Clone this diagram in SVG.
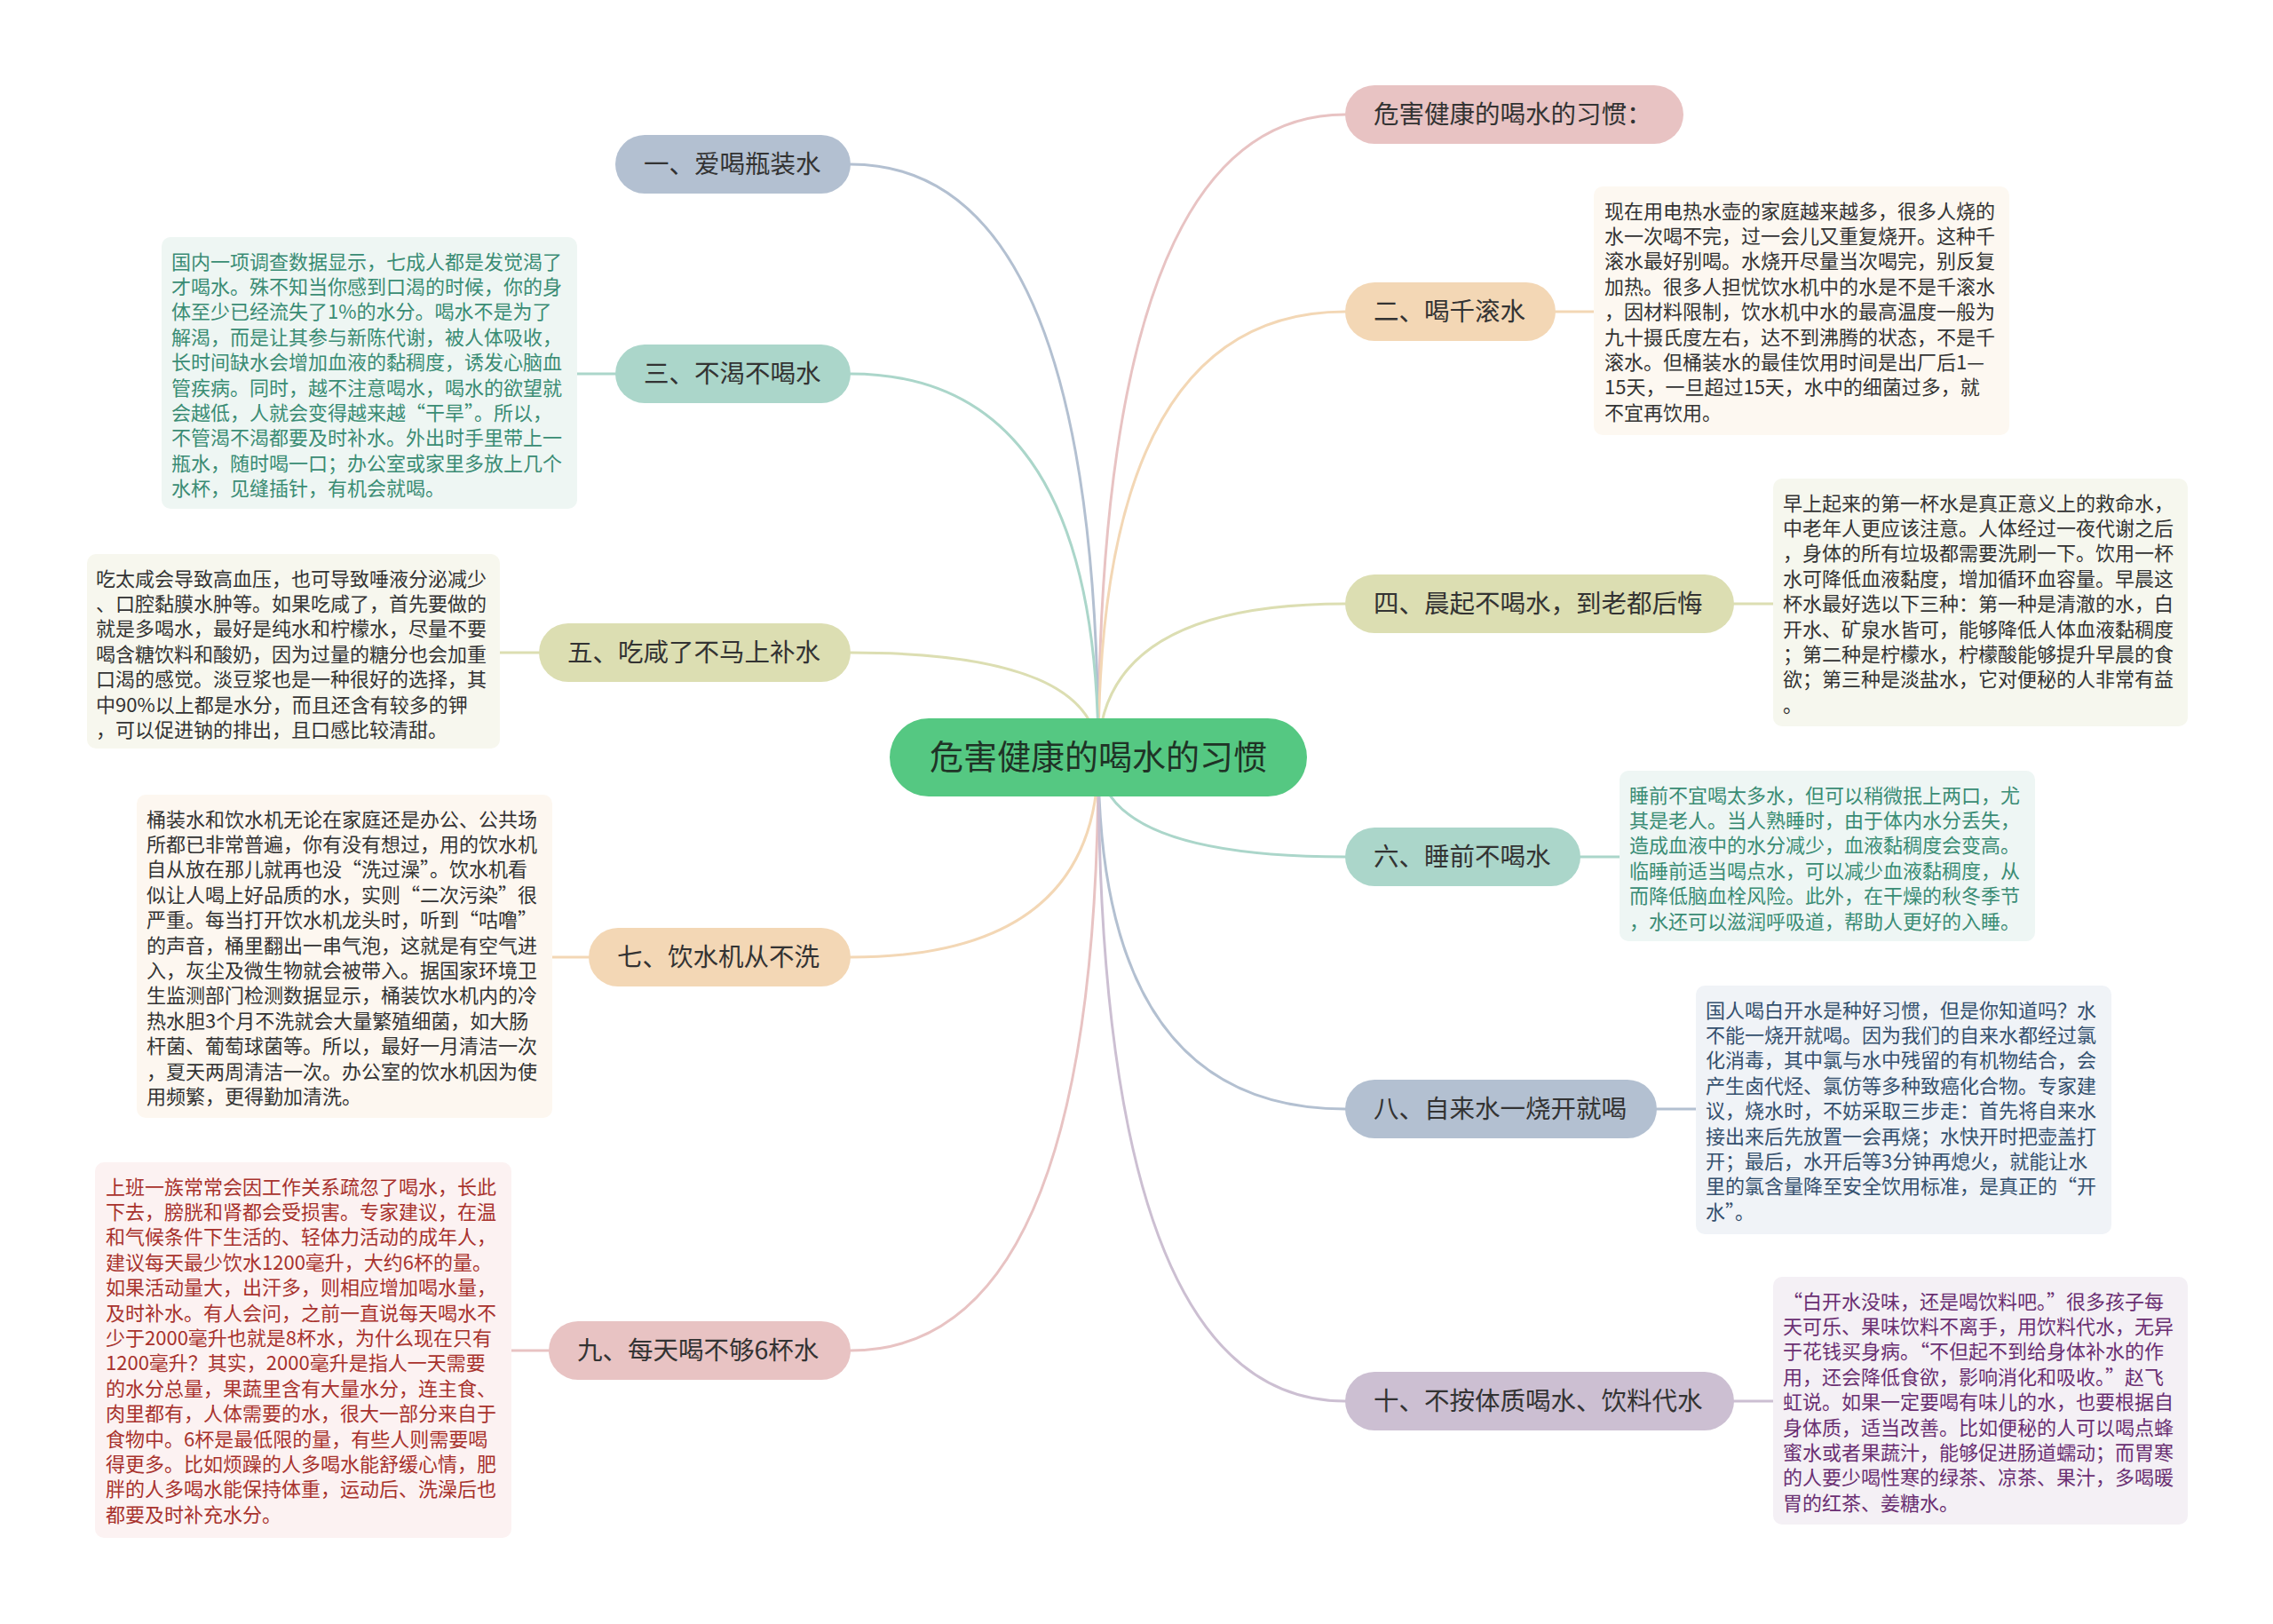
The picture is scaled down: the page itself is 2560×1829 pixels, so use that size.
<svg xmlns="http://www.w3.org/2000/svg" width="2560" height="1829" viewBox="0 0 2560 1829">
<style>
  text { font-family: "Noto Sans CJK SC", "Noto Sans", sans-serif; }
  .nt { font-size: 28.5px; fill: #333333; dominant-baseline: central; }
  .ct { font-size: 38px; fill: #1f3326; dominant-baseline: central; text-anchor: middle; }
  .bt { font-size: 22px; dominant-baseline: central; }
  .c { fill: none; stroke-width: 3; stroke-linecap: round; }
</style>
<rect width="2560" height="1829" fill="#ffffff"/>
<g id="connectors">
  <path class="c" stroke="#e8c3c3" d="M1237 852 Q1237 129 1515 129"/>
  <path class="c" stroke="#b3c0d1" d="M1237 852 Q1237 185 958 185"/>
  <path class="c" stroke="#f3d7b5" d="M1237 852 Q1237 351 1515 351"/>
  <path class="c" stroke="#abd6ca" d="M1237 852 Q1237 421 958 421"/>
  <path class="c" stroke="#dcdeb2" d="M1237 852 Q1237 680 1515 680"/>
  <path class="c" stroke="#dcdeb2" d="M1237 852 Q1237 735 958 735"/>
  <path class="c" stroke="#abd6ca" d="M1237 852 Q1237 965 1515 965"/>
  <path class="c" stroke="#f3d7b5" d="M1237 852 Q1237 1078 958 1078"/>
  <path class="c" stroke="#b3c0d1" d="M1237 852 Q1237 1249 1515 1249"/>
  <path class="c" stroke="#e8c3c3" d="M1237 852 Q1237 1521 958 1521"/>
  <path class="c" stroke="#ccbfd2" d="M1237 852 Q1237 1578 1515 1578"/>
  <path class="c" stroke="#f3d7b5" d="M1752 351 H1795"/>
  <path class="c" stroke="#abd6ca" d="M650 421 H693"/>
  <path class="c" stroke="#dcdeb2" d="M1953 680 H1997"/>
  <path class="c" stroke="#dcdeb2" d="M563 735 H607"/>
  <path class="c" stroke="#abd6ca" d="M1780 965 H1824"/>
  <path class="c" stroke="#f3d7b5" d="M622 1078 H663"/>
  <path class="c" stroke="#b3c0d1" d="M1866 1249 H1910"/>
  <path class="c" stroke="#e8c3c3" d="M576 1521 H618"/>
  <path class="c" stroke="#ccbfd2" d="M1953 1578 H1997"/>
</g>
<g id="center">
  <rect x="1002" y="809" width="470" height="88" rx="44" fill="#55c882"/>
  <text class="ct" x="1237" y="849">危害健康的喝水的习惯</text>
</g>
<g id="n0">
  <rect x="1515" y="96" width="381" height="66" rx="33" fill="#e8c3c3"/>
  <text class="nt" x="1547" y="126">危害健康的喝水的习惯：</text>
</g>
<g id="n1">
  <rect x="693" y="152" width="265" height="66" rx="33" fill="#b3c0d1"/>
  <text class="nt" x="725" y="182">一、爱喝瓶装水</text>
</g>
<g id="n2">
  <rect x="1515" y="318" width="237" height="66" rx="33" fill="#f3d7b5"/>
  <text class="nt" x="1547" y="348">二、喝千滚水</text>
</g>
<g id="n3">
  <rect x="693" y="388" width="265" height="66" rx="33" fill="#abd6ca"/>
  <text class="nt" x="725" y="418">三、不渴不喝水</text>
</g>
<g id="n4">
  <rect x="1515" y="647" width="438" height="66" rx="33" fill="#dcdeb2"/>
  <text class="nt" x="1547" y="677">四、晨起不喝水，到老都后悔</text>
</g>
<g id="n5">
  <rect x="607" y="702" width="351" height="66" rx="33" fill="#dcdeb2"/>
  <text class="nt" x="639" y="732">五、吃咸了不马上补水</text>
</g>
<g id="n6">
  <rect x="1515" y="932" width="265" height="66" rx="33" fill="#abd6ca"/>
  <text class="nt" x="1547" y="962">六、睡前不喝水</text>
</g>
<g id="n7">
  <rect x="663" y="1045" width="295" height="66" rx="33" fill="#f3d7b5"/>
  <text class="nt" x="695" y="1075">七、饮水机从不洗</text>
</g>
<g id="n8">
  <rect x="1515" y="1216" width="351" height="66" rx="33" fill="#b3c0d1"/>
  <text class="nt" x="1547" y="1246">八、自来水一烧开就喝</text>
</g>
<g id="n9">
  <rect x="618" y="1488" width="340" height="66" rx="33" fill="#e8c3c3"/>
  <text class="nt" x="650" y="1518">九、每天喝不够6杯水</text>
</g>
<g id="n10">
  <rect x="1515" y="1545" width="438" height="66" rx="33" fill="#ccbfd2"/>
  <text class="nt" x="1547" y="1575">十、不按体质喝水、饮料代水</text>
</g>
<g id="b2">
  <rect x="1795" y="210" width="468" height="280" rx="10" fill="#fdf8f1"/>
  <text class="bt" fill="#333333" transform="translate(0,-1.5)">
    <tspan x="1807" y="237">现在用电热水壶的家庭越来越多，很多人烧的</tspan>
    <tspan x="1807" y="265.4">水一次喝不完，过一会儿又重复烧开。这种千</tspan>
    <tspan x="1807" y="293.8">滚水最好别喝。水烧开尽量当次喝完，别反复</tspan>
    <tspan x="1807" y="322.2">加热。很多人担忧饮水机中的水是不是千滚水</tspan>
    <tspan x="1807" y="350.6">，因材料限制，饮水机中水的最高温度一般为</tspan>
    <tspan x="1807" y="379">九十摄氏度左右，达不到沸腾的状态，不是千</tspan>
    <tspan x="1807" y="407.4">滚水。但桶装水的最佳饮用时间是出厂后1—</tspan>
    <tspan x="1807" y="435.8">15天，一旦超过15天，水中的细菌过多，就</tspan>
    <tspan x="1807" y="464.2">不宜再饮用。</tspan>
  </text>
</g>
<g id="b4">
  <rect x="1997" y="539" width="467" height="279" rx="10" fill="#f6f7ee"/>
  <text class="bt" fill="#333333" transform="translate(0,-1.5)">
    <tspan x="2008" y="566">早上起来的第一杯水是真正意义上的救命水，</tspan>
    <tspan x="2008" y="594.4">中老年人更应该注意。人体经过一夜代谢之后</tspan>
    <tspan x="2008" y="622.8">，身体的所有垃圾都需要洗刷一下。饮用一杯</tspan>
    <tspan x="2008" y="651.2">水可降低血液黏度，增加循环血容量。早晨这</tspan>
    <tspan x="2008" y="679.6">杯水最好选以下三种：第一种是清澈的水，白</tspan>
    <tspan x="2008" y="708">开水、矿泉水皆可，能够降低人体血液黏稠度</tspan>
    <tspan x="2008" y="736.4">；第二种是柠檬水，柠檬酸能够提升早晨的食</tspan>
    <tspan x="2008" y="764.8">欲；第三种是淡盐水，它对便秘的人非常有益</tspan>
    <tspan x="2008" y="793.2">。</tspan>
  </text>
</g>
<g id="b6">
  <rect x="1824" y="868" width="468" height="192" rx="10" fill="#eef6f4"/>
  <text class="bt" fill="#3a8c74" transform="translate(0,-1.5)">
    <tspan x="1835" y="895">睡前不宜喝太多水，但可以稍微抿上两口，尤</tspan>
    <tspan x="1835" y="923.4">其是老人。当人熟睡时，由于体内水分丢失，</tspan>
    <tspan x="1835" y="951.8">造成血液中的水分减少，血液黏稠度会变高。</tspan>
    <tspan x="1835" y="980.2">临睡前适当喝点水，可以减少血液黏稠度，从</tspan>
    <tspan x="1835" y="1008.6">而降低脑血栓风险。此外，在干燥的秋冬季节</tspan>
    <tspan x="1835" y="1037">，水还可以滋润呼吸道，帮助人更好的入睡。</tspan>
  </text>
</g>
<g id="b8">
  <rect x="1910" y="1110" width="468" height="280" rx="10" fill="#f0f3f7"/>
  <text class="bt" fill="#34506e" transform="translate(0,-1.5)">
    <tspan x="1921" y="1137">国人喝白开水是种好习惯，但是你知道吗？水</tspan>
    <tspan x="1921" y="1165.4">不能一烧开就喝。因为我们的自来水都经过氯</tspan>
    <tspan x="1921" y="1193.8">化消毒，其中氯与水中残留的有机物结合，会</tspan>
    <tspan x="1921" y="1222.2">产生卤代烃、氯仿等多种致癌化合物。专家建</tspan>
    <tspan x="1921" y="1250.6">议，烧水时，不妨采取三步走：首先将自来水</tspan>
    <tspan x="1921" y="1279">接出来后先放置一会再烧；水快开时把壶盖打</tspan>
    <tspan x="1921" y="1307.4">开；最后，水开后等3分钟再熄火，就能让水</tspan>
    <tspan x="1921" y="1335.8">里的氯含量降至安全饮用标准，是真正的“开</tspan>
    <tspan x="1921" y="1364.2">水”。</tspan>
  </text>
</g>
<g id="b10">
  <rect x="1997" y="1438" width="467" height="279" rx="10" fill="#f4f0f5"/>
  <text class="bt" fill="#6a2f72" transform="translate(0,-1.5)">
    <tspan x="2008" y="1465">“白开水没味，还是喝饮料吧。”很多孩子每</tspan>
    <tspan x="2008" y="1493.4">天可乐、果味饮料不离手，用饮料代水，无异</tspan>
    <tspan x="2008" y="1521.8">于花钱买身病。“不但起不到给身体补水的作</tspan>
    <tspan x="2008" y="1550.2">用，还会降低食欲，影响消化和吸收。”赵飞</tspan>
    <tspan x="2008" y="1578.6">虹说。如果一定要喝有味儿的水，也要根据自</tspan>
    <tspan x="2008" y="1607">身体质，适当改善。比如便秘的人可以喝点蜂</tspan>
    <tspan x="2008" y="1635.4">蜜水或者果蔬汁，能够促进肠道蠕动；而胃寒</tspan>
    <tspan x="2008" y="1663.8">的人要少喝性寒的绿茶、凉茶、果汁，多喝暖</tspan>
    <tspan x="2008" y="1692.2">胃的红茶、姜糖水。</tspan>
  </text>
</g>
<g id="b3">
  <rect x="182" y="267" width="468" height="306" rx="10" fill="#eef6f3"/>
  <text class="bt" fill="#3a8c74" transform="translate(0,-1.5)">
    <tspan x="193" y="294">国内一项调查数据显示，七成人都是发觉渴了</tspan>
    <tspan x="193" y="322.4">才喝水。殊不知当你感到口渴的时候，你的身</tspan>
    <tspan x="193" y="350.8">体至少已经流失了1%的水分。喝水不是为了</tspan>
    <tspan x="193" y="379.2">解渴，而是让其参与新陈代谢，被人体吸收，</tspan>
    <tspan x="193" y="407.6">长时间缺水会增加血液的黏稠度，诱发心脑血</tspan>
    <tspan x="193" y="436">管疾病。同时，越不注意喝水，喝水的欲望就</tspan>
    <tspan x="193" y="464.4">会越低，人就会变得越来越“干旱”。所以，</tspan>
    <tspan x="193" y="492.8">不管渴不渴都要及时补水。外出时手里带上一</tspan>
    <tspan x="193" y="521.2">瓶水，随时喝一口；办公室或家里多放上几个</tspan>
    <tspan x="193" y="549.6">水杯，见缝插针，有机会就喝。</tspan>
  </text>
</g>
<g id="b5">
  <rect x="98" y="624" width="465" height="219" rx="10" fill="#f7f7ee"/>
  <text class="bt" fill="#333333" transform="translate(0,-1.5)">
    <tspan x="108" y="651">吃太咸会导致高血压，也可导致唾液分泌减少</tspan>
    <tspan x="108" y="679.4">、口腔黏膜水肿等。如果吃咸了，首先要做的</tspan>
    <tspan x="108" y="707.8">就是多喝水，最好是纯水和柠檬水，尽量不要</tspan>
    <tspan x="108" y="736.2">喝含糖饮料和酸奶，因为过量的糖分也会加重</tspan>
    <tspan x="108" y="764.6">口渴的感觉。淡豆浆也是一种很好的选择，其</tspan>
    <tspan x="108" y="793">中90%以上都是水分，而且还含有较多的钾</tspan>
    <tspan x="108" y="821.4">，可以促进钠的排出，且口感比较清甜。</tspan>
  </text>
</g>
<g id="b7">
  <rect x="154" y="895" width="468" height="364" rx="10" fill="#fdf7f0"/>
  <text class="bt" fill="#333333" transform="translate(0,-1.5)">
    <tspan x="165" y="922">桶装水和饮水机无论在家庭还是办公、公共场</tspan>
    <tspan x="165" y="950.4">所都已非常普遍，你有没有想过，用的饮水机</tspan>
    <tspan x="165" y="978.8">自从放在那儿就再也没“洗过澡”。饮水机看</tspan>
    <tspan x="165" y="1007.2">似让人喝上好品质的水，实则“二次污染”很</tspan>
    <tspan x="165" y="1035.6">严重。每当打开饮水机龙头时，听到“咕噜”</tspan>
    <tspan x="165" y="1064">的声音，桶里翻出一串气泡，这就是有空气进</tspan>
    <tspan x="165" y="1092.4">入，灰尘及微生物就会被带入。据国家环境卫</tspan>
    <tspan x="165" y="1120.8">生监测部门检测数据显示，桶装饮水机内的冷</tspan>
    <tspan x="165" y="1149.2">热水胆3个月不洗就会大量繁殖细菌，如大肠</tspan>
    <tspan x="165" y="1177.6">杆菌、葡萄球菌等。所以，最好一月清洁一次</tspan>
    <tspan x="165" y="1206">，夏天两周清洁一次。办公室的饮水机因为使</tspan>
    <tspan x="165" y="1234.4">用频繁，更得勤加清洗。</tspan>
  </text>
</g>
<g id="b9">
  <rect x="107" y="1309" width="469" height="423" rx="10" fill="#fcf2f2"/>
  <text class="bt" fill="#a8322d" transform="translate(0,-1.5)">
    <tspan x="119" y="1336">上班一族常常会因工作关系疏忽了喝水，长此</tspan>
    <tspan x="119" y="1364.4">下去，膀胱和肾都会受损害。专家建议，在温</tspan>
    <tspan x="119" y="1392.8">和气候条件下生活的、轻体力活动的成年人，</tspan>
    <tspan x="119" y="1421.2">建议每天最少饮水1200毫升，大约6杯的量。</tspan>
    <tspan x="119" y="1449.6">如果活动量大，出汗多，则相应增加喝水量，</tspan>
    <tspan x="119" y="1478">及时补水。有人会问，之前一直说每天喝水不</tspan>
    <tspan x="119" y="1506.4">少于2000毫升也就是8杯水，为什么现在只有</tspan>
    <tspan x="119" y="1534.8">1200毫升？其实，2000毫升是指人一天需要</tspan>
    <tspan x="119" y="1563.2">的水分总量，果蔬里含有大量水分，连主食、</tspan>
    <tspan x="119" y="1591.6">肉里都有，人体需要的水，很大一部分来自于</tspan>
    <tspan x="119" y="1620">食物中。6杯是最低限的量，有些人则需要喝</tspan>
    <tspan x="119" y="1648.4">得更多。比如烦躁的人多喝水能舒缓心情，肥</tspan>
    <tspan x="119" y="1676.8">胖的人多喝水能保持体重，运动后、洗澡后也</tspan>
    <tspan x="119" y="1705.2">都要及时补充水分。</tspan>
  </text>
</g>
</svg>
